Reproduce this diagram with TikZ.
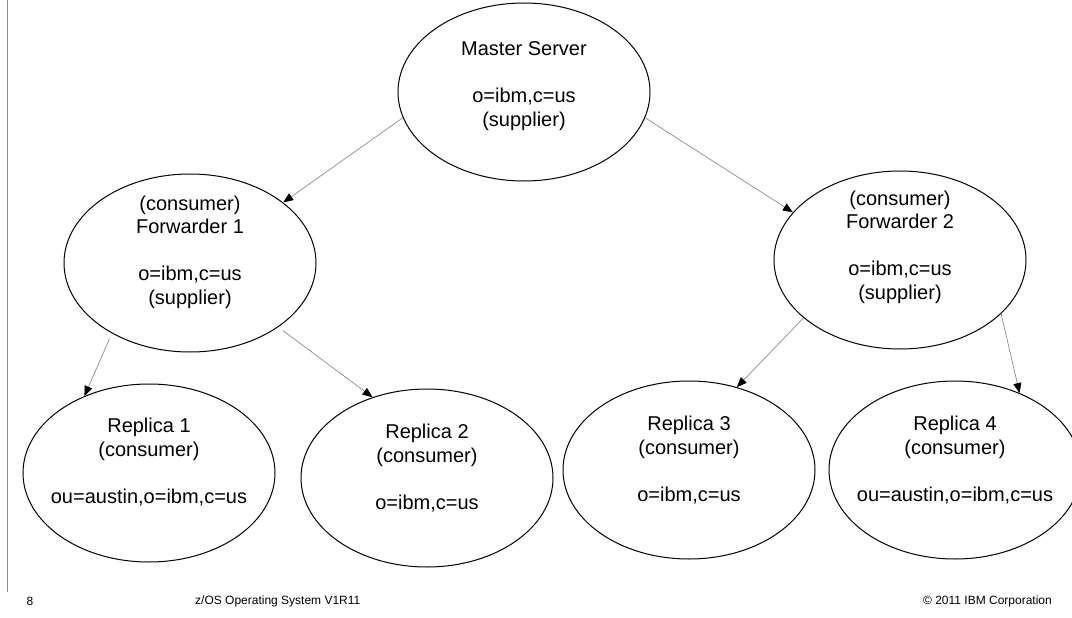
\documentclass[tikz,border=0pt]{standalone}
\usepackage{fontspec}
\setmainfont{Liberation Sans}
\usetikzlibrary{arrows.meta,shapes.geometric}
\begin{document}
\begin{tikzpicture}[x=1pt,y=-1pt,
  server/.style={ellipse, draw=black, line width=1pt, minimum width=252pt, minimum height=178pt, inner sep=0pt},
  caption/.style={align=center, inner sep=0pt, font=\fontsize{20}{23.5}\selectfont},
  link/.style={draw=black!45, line width=0.7pt, -{Triangle[length=10pt,width=8pt,color=black]}},
  footer/.style={inner sep=0pt, font=\fontsize{12}{14}\selectfont},
]
\path[use as bounding box, clip] (0,0) rectangle (1072,618);

% slide margin rule
\coordinate (ruletop) at (7,0);
\coordinate (rulebot) at (7,592);
\draw[black!45, line width=1pt] (ruletop) -- (rulebot);

% servers
\node[server] (m)  at (524,92)  {};
\node[server] (f1) at (190,263) {};
\node[server] (f2) at (900,260) {};
\node[server] (r1) at (149,473) {};
\node[server] (r2) at (427,478) {};
\node[server] (r3) at (689,470) {};
\node[server] (r4) at (955,470) {};

% server texts
\node[caption] (mt)  at ([yshift=6pt]m.center)   {Master Server\\[23.5pt]o=ibm,c=us\\(supplier)};
\node[caption] (f1t) at ([yshift=11pt]f1.center) {(consumer)\\Forwarder 1\\[23.5pt]o=ibm,c=us\\(supplier)};
\node[caption] (f2t) at ([yshift=13pt]f2.center) {(consumer)\\Forwarder 2\\[23.5pt]o=ibm,c=us\\(supplier)};
\node[caption] (r1t) at ([yshift=11pt]r1.center) {Replica 1\\(consumer)\\[23.5pt]ou=austin,o=ibm,c=us};
\node[caption] (r2t) at ([yshift=10pt]r2.center) {Replica 2\\(consumer)\\[23.5pt]o=ibm,c=us};
\node[caption] (r3t) at ([yshift=10pt]r3.center) {Replica 3\\(consumer)\\[23.5pt]o=ibm,c=us};
\node[caption] (r4t) at ([yshift=10pt]r4.center) {Replica 4\\(consumer)\\[23.5pt]ou=austin,o=ibm,c=us};

% replication links
\draw[link] (m.192)   -- (f1.33);
\draw[link] (m.348)   -- (f2.156);
\draw[link, shorten <=6pt] (f1.222) -- (r1.130);
\draw[link, shorten <=6pt] (f1.324) -- (r2.124);
\draw[link] (f2.211)  -- (r3.60);
\draw[link] (f2.332)  -- (r4.50);

% footer
\node[footer] (page) at (30,601) {8};
\node[footer, anchor=west] (title) at (195,601) {z/OS Operating System V1R11};
\node[footer, anchor=east] (copy) at (1052,601) {\textcopyright{} 2011 IBM Corporation};
\end{tikzpicture}
\end{document}
